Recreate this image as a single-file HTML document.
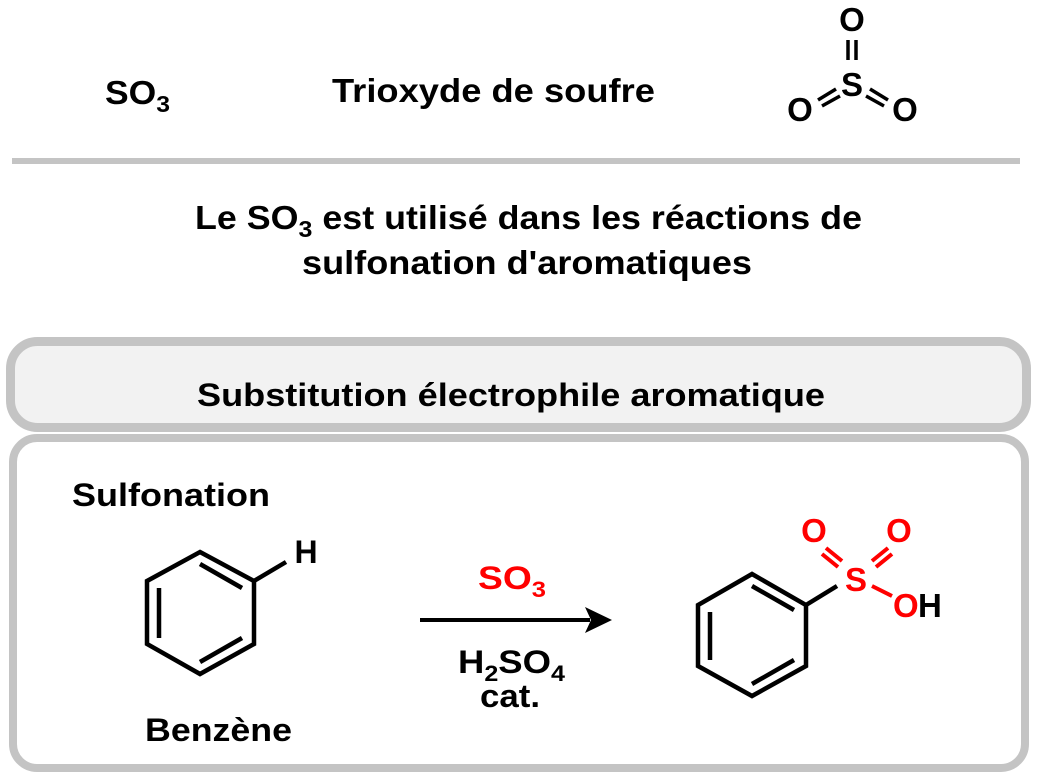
<!DOCTYPE html>
<html><head><meta charset="utf-8"><style>
html,body{margin:0;padding:0;background:#fff;}
svg{display:block;}
text{font-family:"Liberation Sans",Arial,sans-serif;font-weight:bold;}
</style></head><body>
<svg width="1039" height="779" viewBox="0 0 1039 779" xmlns="http://www.w3.org/2000/svg">
<rect width="1039" height="779" fill="#fff"/>
<text x="105" y="104" font-size="33" fill="#000" textLength="65" lengthAdjust="spacingAndGlyphs">SO<tspan font-size="23" dy="8">3</tspan></text>
<text x="332" y="102" font-size="33" fill="#000" textLength="323" lengthAdjust="spacingAndGlyphs">Trioxyde de soufre</text>
<g fill="#000" font-size="33">
<text x="852" y="31" text-anchor="middle">O</text>
<text x="852" y="96" text-anchor="middle">S</text>
<text x="800" y="121" text-anchor="middle">O</text>
<text x="905" y="121" text-anchor="middle">O</text>
</g>
<g stroke="#000" stroke-width="3.5">
<line x1="848" y1="40" x2="848" y2="60"/><line x1="856" y1="40" x2="856" y2="60"/>
<line x1="818" y1="100" x2="836" y2="89"/><line x1="822" y1="106" x2="840" y2="96"/>
<line x1="870" y1="89" x2="888" y2="100"/><line x1="866" y1="96" x2="884" y2="106"/>
</g>
<line x1="12" y1="161" x2="1020" y2="161" stroke="#c4c4c4" stroke-width="6"/>
<text x="195" y="229" font-size="33" fill="#000" textLength="667" lengthAdjust="spacingAndGlyphs">Le SO<tspan font-size="23" dy="8">3</tspan><tspan dy="-8"> est utilisé dans les réactions de</tspan></text>
<text x="302" y="274" font-size="33" fill="#000" textLength="450" lengthAdjust="spacingAndGlyphs">sulfonation d'aromatiques</text>
<rect x="10.5" y="341.5" width="1016" height="86" rx="27" fill="#f2f2f2" stroke="#c4c4c4" stroke-width="9"/>
<text x="197" y="406" font-size="32" fill="#000" textLength="628" lengthAdjust="spacingAndGlyphs">Substitution électrophile aromatique</text>
<rect x="13" y="438" width="1012" height="330" rx="24" fill="#fff" stroke="#c4c4c4" stroke-width="8"/>
<text x="72" y="506" font-size="32" fill="#000" textLength="198" lengthAdjust="spacingAndGlyphs">Sulfonation</text>
<g stroke="#000" stroke-width="4.5" fill="none">
<polygon points="200,552 254,581 254,644 200,674 147,644 147,581"/>
<line x1="200" y1="564" x2="242" y2="588"/>
<line x1="159" y1="588" x2="159" y2="638"/>
<line x1="200" y1="662" x2="242" y2="638"/>
<line x1="254" y1="581" x2="286" y2="562"/>
</g>
<text x="306" y="563" font-size="32" text-anchor="middle" fill="#000">H</text>
<text x="145" y="741" font-size="32" fill="#000" textLength="147" lengthAdjust="spacingAndGlyphs">Benzène</text>
<text x="478" y="589" font-size="32" fill="#f00" textLength="68" lengthAdjust="spacingAndGlyphs">SO<tspan font-size="22" dy="8">3</tspan></text>
<line x1="420" y1="620" x2="590" y2="620" stroke="#000" stroke-width="4"/>
<polygon points="612,620 585,607 591,620 585,633" fill="#000"/>
<text x="458" y="673" font-size="32" fill="#000" textLength="107" lengthAdjust="spacingAndGlyphs">H<tspan font-size="22" dy="8">2</tspan><tspan dy="-8">SO</tspan><tspan font-size="22" dy="8">4</tspan></text>
<text x="480" y="707" font-size="32" fill="#000" textLength="60" lengthAdjust="spacingAndGlyphs">cat.</text>
<g stroke="#000" stroke-width="4.5" fill="none">
<polygon points="752,574 806,605 806,666 752,696 698,666 698,605"/>
<line x1="752" y1="586" x2="794" y2="610"/>
<line x1="710" y1="612" x2="710" y2="660"/>
<line x1="752" y1="684" x2="794" y2="660"/>
<line x1="806" y1="605" x2="837" y2="586"/>
</g>
<g stroke="#f00" stroke-width="4">
<line x1="826" y1="548" x2="842" y2="561"/><line x1="822" y1="554" x2="838" y2="567"/>
<line x1="888" y1="548" x2="872" y2="561"/><line x1="892" y1="554" x2="876" y2="567"/>
<line x1="872" y1="586" x2="892" y2="596"/>
</g>
<g fill="#f00" font-size="33">
<text x="814" y="542" text-anchor="middle">O</text>
<text x="899" y="542" text-anchor="middle">O</text>
<text x="856" y="591" text-anchor="middle">S</text>
<text x="893" y="617">O</text>
</g>
<text x="918" y="617" font-size="33" fill="#000">H</text>
</svg>
</body></html>
